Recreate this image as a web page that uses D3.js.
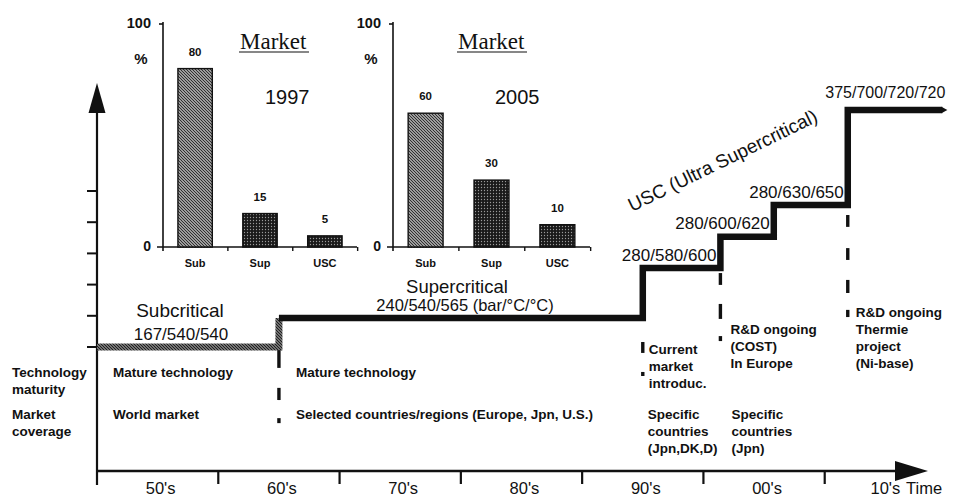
<!DOCTYPE html>
<html>
<head>
<meta charset="utf-8">
<script src="https://cdn.jsdelivr.net/npm/d3@7"></script>
<style>
  body { margin: 0; background: #fff; }
  svg { display: block; }
  text { font-family: "Liberation Sans", Arial, Helvetica, sans-serif; fill: #111; }
</style>
</head>
<body>
<svg id="chart" width="956" height="497"></svg>
<script>
// market share of new plants (%)
var categories = ["Sub", "Sup", "USC"];
var share1997 = [80, 15, 5];
var share2005 = [60, 30, 10];
var shareTicks = [0, 100];

// steam conditions over time (level, 1 unit = 1 axis tick)
var stepYears = [1945, 1960, 1990, 1996.4, 2000.8, 2006.9, 2014.7];
var stepLevels = [0, 0.93, 2.53, 3.53, 4.55, 7.6];
var stepNames = ["167/540/540", "240/540/565 (bar/°C/°C)", "280/580/600", "280/600/620", "280/630/650", "375/700/720/720"];

var decadeLabels = ["50's", "60's", "70's", "80's", "90's", "00's", "10's"];
var decadeYears = [1950, 1960, 1970, 1980, 1990, 2000, 2010];
var decadeTicks = [1955, 1965, 1975, 1985, 1995, 2005];
var levelTicks = [0, 1, 2, 3, 4, 5];

// dashed markers (year, dash pieces in level units)
var markerYears = [1960, 1990, 1996.4, 2006.9];
var markerDashes = [
  [[-0.1, -0.67], [-1.31, -1.7], [-2.28, -2.44]],
  [[0.16, -0.19], [-0.8, -0.93]],
  [[2.37, 1.99], [1.38, 0.9], [0.35, 0.19]],
  [[4.23, 3.85], [3.17, 2.79], [2.15, 1.73], [1.19, 0.96]]
];

var rowLabels = [["Technology", "maturity"], ["Market", "coverage"]];
var maturityNotes = [["Mature technology"], ["Mature technology"], ["Current", "market", "introduc."], ["R&D ongoing", "(COST)", "In Europe"], ["R&D ongoing", "Thermie", "project", "(Ni-base)"]];
var coverageNotes = [["World market"], ["Selected countries/regions (Europe, Jpn, U.S.)"], ["Specific", "countries", "(Jpn,DK,D)"], ["Specific", "countries", "(Jpn)"]];

var svg = d3.select("#chart");
var defs = svg.append("defs");

// hatch for the subcritical line
var hatch = defs.append("pattern").attr("id", "lineHatch")
  .attr("patternUnits", "userSpaceOnUse").attr("width", 3).attr("height", 3);
hatch.append("rect").attr("width", 3).attr("height", 3).attr("fill", "#9a9a9a");
hatch.append("path").attr("d", "M-1,-1L4,4M-1,2L1,4M2,-1L4,1")
  .attr("stroke", "#1a1a1a").attr("stroke-width", 1.2);

// hatch for "Sub" bars
var barHatch = defs.append("pattern").attr("id", "barHatch")
  .attr("patternUnits", "userSpaceOnUse").attr("width", 3).attr("height", 3);
barHatch.append("rect").attr("width", 3).attr("height", 3).attr("fill", "#d0d0d0");
barHatch.append("path").attr("d", "M-1,-1L4,4M-1,2L1,4M2,-1L4,1")
  .attr("stroke", "#2a2a2a").attr("stroke-width", 1.2);

// stipple for "Sup" / "USC" bars
var dots = defs.append("pattern").attr("id", "dots")
  .attr("patternUnits", "userSpaceOnUse").attr("width", 3).attr("height", 3);
dots.append("rect").attr("width", 3).attr("height", 3).attr("fill", "#1a1a1a");
dots.append("circle").attr("cx", 1.5).attr("cy", 1.5).attr("r", 0.65).attr("fill", "#9a9a9a");

var barFills = ["url(#barHatch)", "url(#dots)", "url(#dots)"];

// ---------- small market charts ----------
function drawMarket(values, axisX, endX, year, titleX) {
  var g = svg.append("g");
  var yS = d3.scaleLinear().domain([0, 100]).range([247, 24]);
  var xS = d3.scaleBand().domain(categories).range([axisX, endX])
    .paddingInner(0.47).paddingOuter(0.23);
  var step = xS.step();

  g.append("line").attr("x1", axisX).attr("x2", axisX)
    .attr("y1", yS(100) - 2).attr("y2", yS(0) + 4)
    .attr("stroke", "#111").attr("stroke-width", 1.6);
  g.append("line").attr("x1", axisX - 4).attr("x2", axisX)
    .attr("y1", yS(100)).attr("y2", yS(100))
    .attr("stroke", "#111").attr("stroke-width", 1.6);
  g.append("line").attr("x1", axisX - 6).attr("x2", endX)
    .attr("y1", yS(0)).attr("y2", yS(0))
    .attr("stroke", "#111").attr("stroke-width", 1.6);
  g.selectAll(".btick").data([1, 2, 3]).enter().append("line")
    .attr("x1", function(k) { return axisX + k * step; })
    .attr("x2", function(k) { return axisX + k * step; })
    .attr("y1", yS(0)).attr("y2", yS(0) + 4)
    .attr("stroke", "#111").attr("stroke-width", 1.4);

  g.selectAll(".tl").data(shareTicks).enter().append("text")
    .attr("x", axisX - 12).attr("y", function(d) { return yS(d) + 4; })
    .attr("text-anchor", "end").attr("font-size", d => d === 0 ? 14 : 14.5)
    .attr("font-weight", "bold").text(d => d);
  g.append("text").attr("x", axisX - 22).attr("y", 64).attr("text-anchor", "middle")
    .attr("font-size", 15).attr("font-weight", "bold").text("%");

  g.selectAll("rect.bar").data(values).enter().append("rect")
    .attr("x", (d, i) => xS(categories[i]))
    .attr("y", d => yS(d))
    .attr("width", xS.bandwidth())
    .attr("height", d => yS(0) - yS(d))
    .attr("fill", (d, i) => barFills[i])
    .attr("stroke", "#111").attr("stroke-width", 1.4);

  g.selectAll(".vl").data(values).enter().append("text")
    .attr("x", (d, i) => xS(categories[i]) + xS.bandwidth() / 2)
    .attr("y", d => yS(d) - 13)
    .attr("text-anchor", "middle").attr("font-size", 11.5).attr("font-weight", "bold")
    .text(d => d);
  g.selectAll(".cl").data(categories).enter().append("text")
    .attr("x", d => xS(d) + xS.bandwidth() / 2).attr("y", 267)
    .attr("text-anchor", "middle").attr("font-size", 11).attr("font-weight", "bold")
    .text(d => d);

  g.append("text").attr("x", titleX).attr("y", 49)
    .style("font-family", "'Liberation Serif','Times New Roman',serif")
    .attr("font-size", 23).text("Market");
  g.append("line").attr("x1", titleX - 1).attr("x2", titleX + 69)
    .attr("y1", 52).attr("y2", 52).attr("stroke", "#111").attr("stroke-width", 1.2);
  g.append("text").attr("x", axisX + 102).attr("y", 104)
    .attr("font-size", 20).text(year);
}

drawMarket(share1997, 163, 357, "1997", 240);
drawMarket(share2005, 393, 590, "2005", 458);

// ---------- timeline ----------
var x = d3.scaleLinear().domain([1945, 2015]).range([97, 946]);
var y = d3.scaleLinear().domain([0, 5]).range([347, 191]);
var axisY = 471;

// y axis with arrow
svg.append("line").attr("x1", x(1945)).attr("x2", x(1945))
  .attr("y1", 110).attr("y2", 485).attr("stroke", "#111").attr("stroke-width", 2.2);
svg.append("path").attr("d", "M" + x(1945) + ",83L" + (x(1945) - 8.5) + ",113L" + (x(1945) + 8.5) + ",113Z")
  .attr("fill", "#111");
svg.selectAll(".ytick").data(levelTicks).enter().append("line")
  .attr("x1", x(1945) - 10).attr("x2", x(1945))
  .attr("y1", d => y(d)).attr("y2", d => y(d))
  .attr("stroke", "#111").attr("stroke-width", 2);

// x axis with arrow
svg.append("line").attr("x1", x(1945)).attr("x2", 900)
  .attr("y1", axisY).attr("y2", axisY).attr("stroke", "#111").attr("stroke-width", 2.4);
svg.append("path").attr("d", "M928," + axisY + "L895," + (axisY - 10) + "L895," + (axisY + 10) + "Z")
  .attr("fill", "#111");
svg.selectAll(".xtick").data(decadeTicks).enter().append("line")
  .attr("x1", d => x(d)).attr("x2", d => x(d))
  .attr("y1", axisY).attr("y2", axisY + 13)
  .attr("stroke", "#111").attr("stroke-width", 2.2);
svg.selectAll(".xl").data(decadeLabels).enter().append("text")
  .attr("x", (d, i) => x(decadeYears[i]) + (i === decadeLabels.length - 1 ? 0 : 3)).attr("y", 494)
  .attr("text-anchor", "middle").attr("font-size", 16.5).text(d => d);
svg.append("text").attr("x", 906).attr("y", 494).attr("font-size", 16.5).text("Time");

// steps
var pts = stepLevels.map((v, i) => [stepYears[i], v]);
pts.push([stepYears[stepYears.length - 1], stepLevels[stepLevels.length - 1]]);
var stepLine = d3.line().x(d => x(d[0])).y(d => y(d[1])).curve(d3.curveStepAfter);

svg.append("path").datum(pts.slice(0, 2))
  .attr("d", stepLine).attr("fill", "none")
  .attr("stroke", "url(#lineHatch)").attr("stroke-width", 7)
  .attr("stroke-linejoin", "miter");
svg.append("path").datum(pts.slice(1))
  .attr("d", stepLine).attr("fill", "none")
  .attr("stroke", "#111").attr("stroke-width", 6.5)
  .attr("stroke-linejoin", "miter");
// pointed end
var endX = x(stepYears[stepYears.length - 1]), endY = y(stepLevels[stepLevels.length - 1]);
svg.append("path").attr("d", "M" + (endX - 1) + "," + (endY - 3.25) + "L" + (endX + 5) + "," + endY + "L" + (endX - 1) + "," + (endY + 3.25) + "Z")
  .attr("fill", "#111");

// dashed markers
markerYears.forEach(function(yr, i) {
  svg.selectAll(".dash" + i).data(markerDashes[i]).enter().append("line")
    .attr("x1", x(yr)).attr("x2", x(yr))
    .attr("y1", d => y(d[0])).attr("y2", d => y(d[1]))
    .attr("stroke", "#111").attr("stroke-width", 3.4);
});

// step labels
svg.append("text").attr("x", 180).attr("y", y(stepLevels[0]) - 30)
  .attr("text-anchor", "middle").attr("font-size", 19).text("Subcritical");
svg.append("text").attr("x", 181).attr("y", y(stepLevels[0]) - 7)
  .attr("text-anchor", "middle").attr("font-size", 17).text(stepNames[0]);
svg.append("text").attr("x", 457).attr("y", y(stepLevels[1]) - 25)
  .attr("text-anchor", "middle").attr("font-size", 18.5).text("Supercritical");
svg.append("text").attr("x", 465).attr("y", y(stepLevels[1]) - 7)
  .attr("text-anchor", "middle").attr("font-size", 16.5).text(stepNames[1]);
for (var i = 2; i < stepNames.length; i++) {
  var last = i === stepNames.length - 1;
  svg.append("text")
    .attr("x", x(stepYears[i + 1]) + (last ? 3 : -4))
    .attr("y", y(stepLevels[i]) - (last ? 12 : 7.5))
    .attr("text-anchor", "end").attr("font-size", last ? 16 : 17)
    .text(stepNames[i]);
}
svg.append("text").attr("transform", "translate(632,212) rotate(-26)")
  .attr("font-size", 19).text("USC (Ultra Supercritical)");

// row labels and notes
var noteSize = 13.5, lineGap = 17;
function block(lines, px, py) {
  var t = svg.append("text").attr("x", px).attr("y", py)
    .attr("font-size", noteSize).attr("font-weight", "bold");
  lines.forEach(function(s, k) {
    t.append("tspan").attr("x", px).attr("y", py + k * lineGap).text(s);
  });
}
block(rowLabels[0], 12, 377);
block(rowLabels[1], 12, 419);

var maturityX = [x(1945) + 16, x(1960) + 17, x(1990) + 6, x(1996.4) + 10, x(2006.9) + 8];
var maturityY = [377, 377, 354, 334, 317];
maturityNotes.forEach((n, k) => block(n, maturityX[k], maturityY[k]));
var coverageX = [x(1945) + 16, x(1960) + 17, x(1990) + 5, x(1996.4) + 11];
coverageNotes.forEach((n, k) => block(n, coverageX[k], 419));
</script>
</body>
</html>
